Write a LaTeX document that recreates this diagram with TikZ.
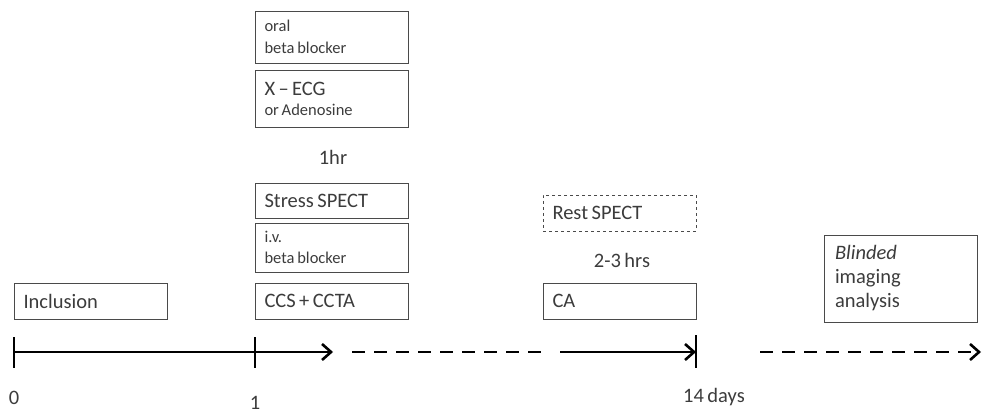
\documentclass[tikz,border=0pt]{standalone}
\usepackage{fontspec}
\setmainfont{Carlito}
\usetikzlibrary{arrows.meta}
\definecolor{txt}{HTML}{3C3C3C}
\definecolor{frame}{HTML}{4A4A4A}
\newcommand{\bigtxt}{\fontsize{20.5}{24}\selectfont\spaceskip=0.17em plus 0.05em\relax}
\newcommand{\smtxt}{\fontsize{16.5}{21.5}\selectfont\spaceskip=0.17em plus 0.05em\relax}
\tikzset{
  x=1pt,y=1pt,
  box/.style={draw=frame, line width=0.9pt, minimum width=153pt, text width=134pt,
    inner xsep=9.5pt, inner ysep=2pt, align=left, text=txt, font=\bigtxt,
    execute at begin node={\spaceskip=0.17em plus 0.05em\relax}},
  lbl/.style={text=txt, font=\bigtxt, inner sep=0pt},
  axis/.style={line width=2.6pt, black},
  tip/.style={-{Straight Barb[length=9pt,width=16pt,line width=2.6pt]}},
  dsh/.style={dash pattern=on 13pt off 9pt}
}
\begin{document}
\begin{tikzpicture}
\useasboundingbox (0,0) rectangle (983,413);
% boxes
\node[box, minimum height=52pt, font=\smtxt] (oral) at (331.5,376) {oral\\beta blocker};
\node[box, minimum height=57pt] (xecg) at (331.5,314.5) {X\,--\,ECG\\[-4pt]{\smtxt or Adenosine}};
\node[lbl] (hr1) at (333,256) {1hr};
\node[box, minimum height=35pt] (stress) at (331.5,212.5) {Stress SPECT};
\node[box, minimum height=49pt, font=\smtxt] (iv) at (331.5,165.5) {i.v.\\beta blocker};
\node[box, minimum height=36pt] (ccs) at (331.5,112) {CCS\,+\,CCTA};
\node[box, minimum height=36pt] (incl) at (90.5,112) {Inclusion};
\node[box, minimum height=36pt, dashed] (rest) at (619.5,200) {Rest SPECT};
\node[lbl] (hrs) at (622,153) {2-3 hrs};
\node[box, minimum height=36pt] (ca) at (619.5,112) {CA};
\node[box, minimum height=87pt, text width=131pt, inner xsep=11pt] (blind) at (900.5,134.5) {\textit{Blinded}\\imaging\\analysis};
% timeline
\coordinate (t0) at (14,61);
\coordinate (t1) at (255,61);
\coordinate (a1) at (333,61);
\coordinate (d1s) at (352,61);
\coordinate (d1e) at (548,61);
\coordinate (s2) at (560,61);
\coordinate (t14) at (696,61);
\coordinate (d2s) at (760,61);
\coordinate (d2e) at (981,61);
\draw[axis] (t0) -- (t1);
\draw[axis, tip] (t1) -- (a1);
\draw[axis, dsh] (d1s) -- (d1e);
\draw[axis, tip] (s2) -- (t14);
\draw[axis, dsh, tip] (d2s) -- (d2e);
\draw[axis] ([yshift=15pt]t0) -- ([yshift=-16pt]t0);
\draw[axis] ([yshift=15pt]t1) -- ([yshift=-16pt]t1);
\draw[axis] ([yshift=17pt]t14) -- ([yshift=-16pt]t14);
% labels
\node[lbl] (l0) at (14,15) {0};
\node[lbl] (l1) at (255,10) {1};
\node[lbl, anchor=west] (l14) at (683,16) {14 days};
\end{tikzpicture}
\end{document}
